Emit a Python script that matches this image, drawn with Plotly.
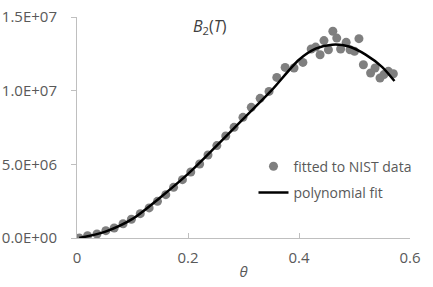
import plotly.graph_objects as go

# fitted to NIST data (theta, B2)
theta_pts = [0.004, 0.019, 0.036, 0.052, 0.067, 0.083, 0.098, 0.114, 0.130, 0.145,
             0.160, 0.174, 0.190, 0.205, 0.221, 0.236, 0.252, 0.268, 0.283, 0.299,
             0.314, 0.330, 0.346, 0.360, 0.375, 0.391, 0.407, 0.422, 0.430, 0.438,
             0.445, 0.453, 0.461, 0.468, 0.475, 0.485, 0.492, 0.500, 0.508, 0.516,
             0.529, 0.537, 0.546, 0.553, 0.561, 0.570]
b2_pts = [0.00e6, 0.16e6, 0.27e6, 0.50e6, 0.68e6, 0.97e6, 1.27e6, 1.65e6, 2.04e6, 2.49e6,
          2.94e6, 3.44e6, 3.96e6, 4.48e6, 5.02e6, 5.63e6, 6.27e6, 6.92e6, 7.51e6, 8.19e6,
          8.87e6, 9.48e6, 9.95e6, 10.90e6, 11.58e6, 11.54e6, 11.92e6, 12.83e6, 12.96e6, 12.44e6,
          13.40e6, 12.78e6, 14.03e6, 13.57e6, 12.83e6, 13.28e6, 12.78e6, 12.67e6, 13.53e6, 11.76e6,
          11.20e6, 11.54e6, 10.86e6, 11.09e6, 11.31e6, 11.15e6]

# polynomial fit curve
theta_fit = [0.004, 0.05, 0.10, 0.15, 0.20, 0.25, 0.30, 0.35, 0.40, 0.43, 0.46, 0.49, 0.52, 0.55, 0.572]
b2_fit = [0.0, 0.42e6, 1.30e6, 2.75e6, 4.35e6, 6.20e6, 8.10e6, 10.0e6, 12.1e6, 12.85e6, 13.12e6, 13.0e6, 12.45e6, 11.6e6, 10.65e6]

x_ticks = [0, 0.2, 0.4, 0.6]
x_tick_labels = ["0", "0.2", "0.4", "0.6"]
y_ticks = [0, 5e6, 1e7, 1.5e7]
y_tick_labels = ["0.0E+00", "5.0E+06", "1.0E+07", "1.5E+07"]

FONT = "Open Sans"
TXT = "#595959"

fig = go.Figure()
fig.add_trace(go.Scatter(
    x=theta_pts, y=b2_pts, mode="markers", name="fitted to NIST data",
    marker=dict(color="#7f7f7f", size=9, line=dict(width=0)), legendgroup="a"))
fig.add_trace(go.Scatter(
    x=theta_fit, y=b2_fit, mode="lines", name="polynomial fit",
    line=dict(color="black", width=2.5, shape="spline", smoothing=0.8), legendgroup="b"))

fig.update_layout(
    width=433, height=287,
    margin=dict(l=77, r=23, t=17, b=49),
    paper_bgcolor="white", plot_bgcolor="white",
    font=dict(family=FONT, size=14, color=TXT),
    showlegend=True,
    legend=dict(x=0.53, y=0.395, xanchor="left", yanchor="top",
                bgcolor="rgba(0,0,0,0)", font=dict(size=14, color=TXT),
                tracegroupgap=5, traceorder="grouped"),
    xaxis=dict(range=[0, 0.6], tickvals=x_ticks, ticktext=x_tick_labels, automargin=False,
               showgrid=False, zeroline=False, showline=True, linecolor="#bfbfbf", linewidth=1,
               ticks="inside", ticklen=5, tickcolor="#bfbfbf", ticklabelstandoff=6,
               tickfont=dict(size=15, color=TXT), ticklabeloverflow="allow",
               title=dict(text="<i>θ</i>", font=dict(size=15, color=TXT), standoff=0)),
    yaxis=dict(range=[0, 1.5e7], tickvals=y_ticks, ticktext=y_tick_labels, automargin=False,
               showgrid=False, zeroline=False, showline=True, linecolor="#bfbfbf", linewidth=1,
               ticks="outside", ticklen=5, tickcolor="#bfbfbf", ticklabelstandoff=11,
               tickfont=dict(size=15, color=TXT), ticklabeloverflow="allow"),
    annotations=[dict(text="<i>B</i><sub>2</sub>(<i>T</i>)", x=0.4, y=1.02,
                      xref="paper", yref="paper", showarrow=False,
                      font=dict(size=16, color="#404040"), xanchor="center", yanchor="top")],
)

fig.write_html("out.html", config={"displayModeBar": False},
               post_script="document.body.style.margin='0';")
